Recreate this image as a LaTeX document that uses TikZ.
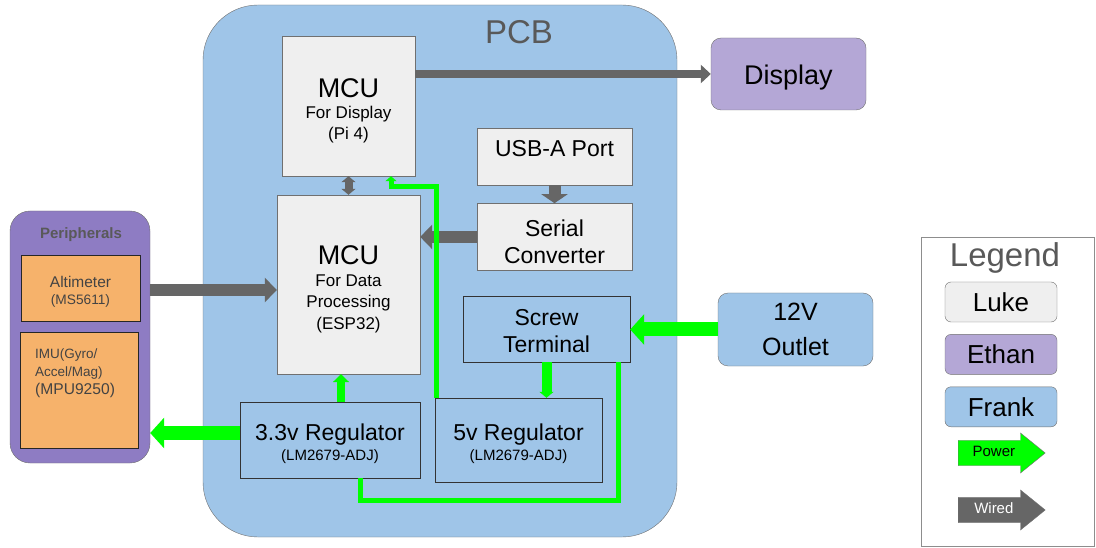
\documentclass[tikz,border=0pt]{standalone}
\usepackage{fontspec}
\setmainfont{Liberation Sans}
\usetikzlibrary{positioning,arrows.meta,shapes.arrows}

\definecolor{pcbblue}{HTML}{9FC5E8}
\definecolor{lukegray}{HTML}{EFEFEF}
\definecolor{ethanpurple}{HTML}{B4A7D6}
\definecolor{periphpurple}{HTML}{8E7CC3}
\definecolor{sensororange}{HTML}{F6B26B}
\definecolor{powergreen}{HTML}{00FF00}
\definecolor{wiregray}{HTML}{666666}
\definecolor{titlegray}{HTML}{595959}
\definecolor{edgegray}{HTML}{707070}
\definecolor{sensortext}{HTML}{434343}

\begin{document}
\begin{tikzpicture}[
    x=1pt, y=-1pt,
    graybox/.style={rectangle, draw=edgegray, fill=lukegray, inner sep=0pt, align=center},
    bluebox/.style={rectangle, draw=black!80, fill=pcbblue, inner sep=0pt, align=center},
    sensorbox/.style={rectangle, draw=black!85, fill=sensororange, inner sep=0pt, align=center, text=sensortext},
    ownerbox/.style={rectangle, draw=edgegray, rounded corners=6pt, inner sep=0pt, minimum width=112pt, minimum height=40pt, font=\fontsize{26}{30}\selectfont},
    titletext/.style={text=titlegray, inner sep=0pt},
    big/.style={font=\fontsize{23}{27}\selectfont},
    legendarrow/.style={single arrow, draw=edgegray, anchor=tail, minimum height=87pt, minimum width=40pt, single arrow tip angle=78, inner ysep=6pt, text height=10pt, text depth=2.5pt, font=\fontsize{15}{17}\selectfont},
    wire/.style={draw=wiregray, line width=12pt, -{Triangle[length=12pt,width=24pt]}},
    power/.style={draw=powergreen, line width=14pt, -{Triangle[length=14pt,width=30pt]}},
    powerline/.style={draw=powergreen, line width=5pt}
]
    \useasboundingbox (0,0) rectangle (1096,548);

    % PCB
    \node [rectangle, draw=edgegray, fill=pcbblue, rounded corners=55pt, minimum width=474pt, minimum height=532pt] (pcb) at (440,271) {};
    \node [titletext, font=\fontsize{33}{33}\selectfont] (pcbtitle) at (519,32) {PCB};

    % Nodes
    \node [graybox, minimum width=133pt, minimum height=140pt, font=\fontsize{17}{21}\selectfont] (mcudisplay) at (348.5,106) {{\fontsize{27}{30}\selectfont\rule{0pt}{29pt}MCU}\\For Display\\(Pi 4)};
    \node [graybox, minimum width=143pt, minimum height=179pt, font=\fontsize{17}{21.5}\selectfont] (mcudata) at (348.5,284.5) {{\fontsize{27}{30}\selectfont\rule{0pt}{29pt}MCU}\\For Data\\Processing\\(ESP32)};
    \node [graybox, big, minimum width=155pt, minimum height=57pt, text depth=16pt] (usb) at (554.5,156.5) {USB-A Port};
    \node [graybox, big, minimum width=155pt, minimum height=67pt, below=18pt of usb] (serial) {\rule{0pt}{26.5pt}Serial\\Converter};
    \node [bluebox, big, minimum width=167pt, minimum height=66pt] (screw) at (546.5,329) {\rule{0pt}{20pt}Screw\\Terminal};
    \node [bluebox, minimum width=180pt, minimum height=76pt, font=\fontsize{15}{20}\selectfont] (reg33) at (330,440) {{\fontsize{23}{27}\selectfont\rule{0pt}{25pt}3.3v Regulator}\\(LM2679-ADJ)};
    \node [bluebox, minimum width=167pt, minimum height=84pt, font=\fontsize{15}{20}\selectfont] (reg5) at (518.5,440) {{\fontsize{23}{27}\selectfont\rule{0pt}{25pt}5v Regulator}\\(LM2679-ADJ)};
    \node [rectangle, draw=edgegray, fill=ethanpurple, rounded corners=10pt, minimum width=155pt, minimum height=72pt, font=\fontsize{27}{30}\selectfont] (display) at (788.5,74) {\rule{0pt}{27.5pt}Display};
    \node [rectangle, draw=edgegray, fill=pcbblue, rounded corners=10pt, minimum width=155pt, minimum height=73pt, align=center, font=\fontsize{25}{35}\selectfont] (outlet) at (795.5,329.5) {12V\\Outlet};

    % Peripherals
    \node [rectangle, draw=edgegray, fill=periphpurple, rounded corners=20pt, minimum width=140pt, minimum height=252pt] (periph) at (80,337) {};
    \node [titletext, font=\fontsize{15}{17}\selectfont\bfseries] (periphtitle) at (81,235) {Peripherals};
    \node [sensorbox, minimum width=119pt, minimum height=66pt, font=\fontsize{13.7}{17}\selectfont] (alti) at (80.5,288) {{\fontsize{15.5}{18}\selectfont\rule{0pt}{19pt}Altimeter}\\(MS5611)};
    \node [sensorbox, minimum width=118pt, minimum height=116pt] (imu) at (79,390) {};
    \node [anchor=north west, inner sep=0pt, align=left, text=sensortext, font=\fontsize{13.5}{18}\selectfont] (imutext) at (35,349) {IMU(Gyro/\\Accel/Mag)\\{\fontsize{15.6}{18}\selectfont (MPU9250)}};

    % Legend
    \node [rectangle, draw=edgegray!80, fill=white, minimum width=173pt, minimum height=309pt] (legend) at (1007.5,391.5) {};
    \node [titletext, font=\fontsize{33}{33}\selectfont] (legendtitle) at (1005,258) {Legend};
    \node [ownerbox, fill=lukegray] (luke) at (1001,302) {Luke};
    \node [ownerbox, fill=ethanpurple, below=12pt of luke] (ethan) {Ethan};
    \node [ownerbox, fill=pcbblue, below=12pt of ethan] (frank) {Frank};
    \node [legendarrow, fill=powergreen] (powerkey) at (958,453) {Power};
    \node [legendarrow, fill=wiregray, text=white] (wiredkey) at (958,510) {Wired};

    % Wired arrows
    \draw [wire, line width=8pt, -{Triangle[length=10pt,width=18pt]}] (display.west -| mcudisplay.east) -- (display.west);
    \draw [draw=wiregray, line width=8pt, {Triangle[length=6pt,width=14pt]}-{Triangle[length=6pt,width=14pt]}] (mcudisplay.south) -- (mcudata.north);
    \draw [wire, -{Triangle[length=9pt,width=26pt]}] (usb.south) -- (serial.north);
    \draw [wire] (serial.west) -- (serial.west -| mcudata.east);
    \draw [wire] ([yshift=-2pt]alti.east -| periph.east) -- ([yshift=-2pt]alti.east -| mcudata.west);

    % Power arrows
    \draw [power] (outlet.west) -- (outlet.west -| screw.east);
    \draw [power, line width=10pt, -{Triangle[length=6pt,width=14pt]}] (screw.south) -- (screw.south |- reg5.north);
    \draw [power, line width=8pt, -{Triangle[length=8pt,width=16pt]}] ([xshift=11pt]reg33.north) -- ([xshift=-7.5pt]mcudata.south);
    \draw [power] ([yshift=7pt]reg33.west) -- ([yshift=7pt]reg33.west -| periph.east);
    \draw [powerline, -{Triangle[length=5pt,width=11pt]}] ([xshift=2pt]reg5.north west) |- ([xshift=42.5pt,yshift=-10pt]mcudisplay.south) -- ([xshift=42.5pt]mcudisplay.south);
    \draw [powerline] ([xshift=-12pt]screw.south east) |- ([xshift=30pt,yshift=-22pt]reg33.south) -- ([xshift=30pt]reg33.south);
\end{tikzpicture}
\end{document}
